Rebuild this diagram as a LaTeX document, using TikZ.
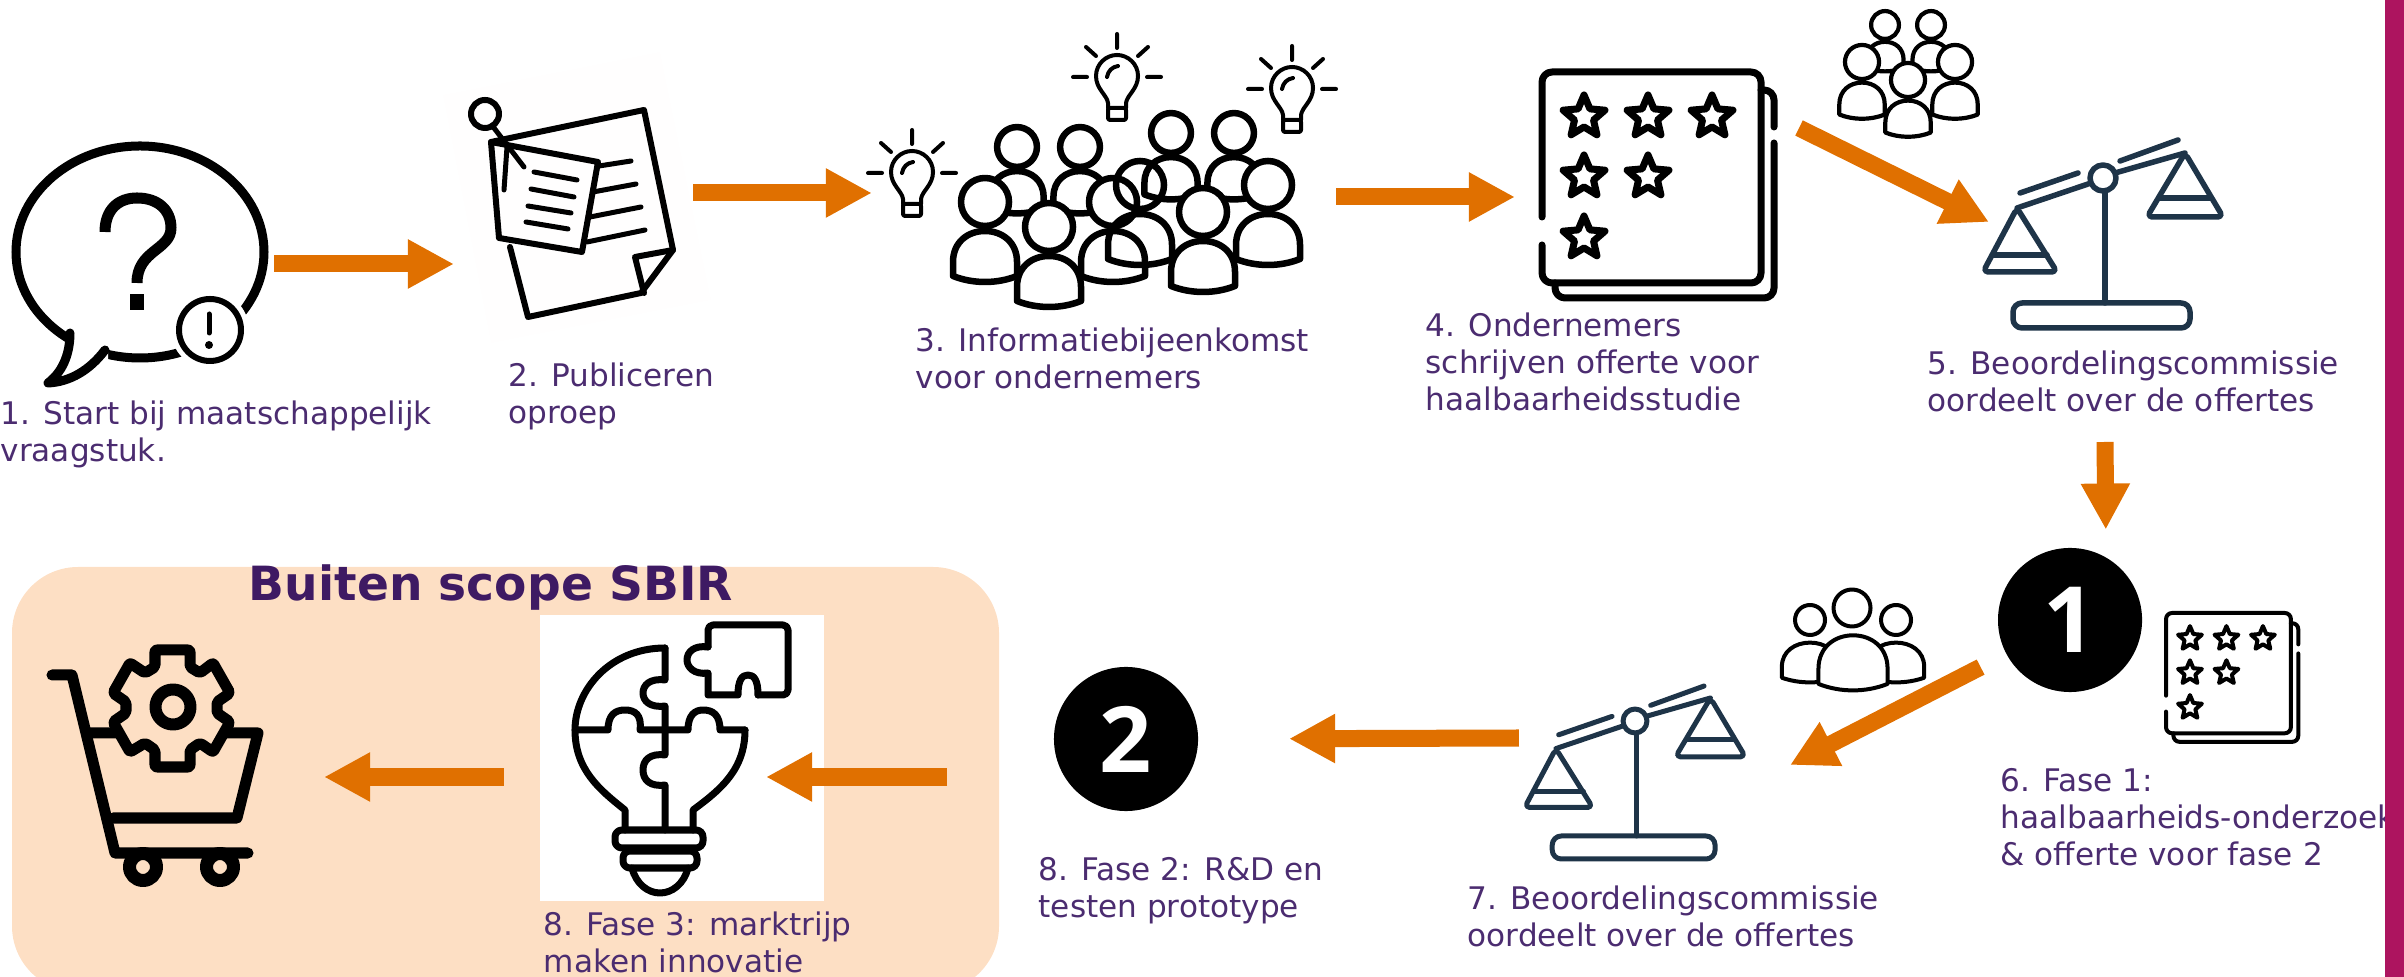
\documentclass[tikz,border=0pt]{standalone}
\usepackage{fontspec}
\setmainfont{DejaVu Sans}
\newfontfamily\digitfont{Open Sans}
\usetikzlibrary{arrows.meta}
\definecolor{sbir_orange}{RGB}{224,112,0}
\definecolor{sbir_purple}{RGB}{75,44,112}
\definecolor{sbir_title}{RGB}{62,26,99}
\definecolor{sbir_magenta}{RGB}{173,20,95}
\definecolor{sbir_panel}{RGB}{253,223,196}
\definecolor{sbir_navy}{RGB}{30,52,72}
\tikzstyle{arrow} = [line width=0.17cm,sbir_orange,-{Triangle[length=0.46cm,width=0.46cm]}]
\tikzstyle{caption} = [anchor=north west, align=left, inner sep=0pt, text=sbir_purple, font=\fontsize{8.85}{10.5}\selectfont]
\tikzstyle{iconframe} = [inner sep=0pt, outer sep=0pt]
\tikzstyle{iconline} = [draw=black, line join=round, line cap=round]
\tikzstyle{numberdot} = [circle, fill=black, text=white, inner sep=0pt, outer sep=0pt, minimum size=1.44cm, font=\digitfont\bfseries\fontsize{26}{26}\selectfont]
\newcommand{\torsopath}{(-32,74) -- (-32,60) .. controls (-32,40) and (-17,29) .. (0,29) .. controls (17,29) and (32,40) .. (32,60) -- (32,74) .. controls (12,82) and (-12,82) .. (-32,74) -- cycle}
\newcommand{\starpath}{(0,-22) -- (5.9,-8.1) -- (20.9,-6.8) -- (9.5,3.1) -- (12.9,17.8) -- (0,10) -- (-12.9,17.8) -- (-9.5,3.1) -- (-20.9,-6.8) -- (-5.9,-8.1) -- cycle}
\tikzset{
  torso/.pic={
    \path[iconline,fill=#1] \torsopath;
  },
  person/.pic={
    \path[iconline,fill=#1] (0,0) circle [radius=24];
    \path[iconline,fill=#1] \torsopath;
  },
  lamp/.pic={
    \draw[iconline] (-9,31) -- (-9,26) .. controls (-10,18) and (-21,12) .. (-21,-1) .. controls (-21,-13) and (-11,-22) .. (0,-22) .. controls (11,-22) and (21,-13) .. (21,-1) .. controls (21,12) and (10,18) .. (9,26) -- (9,31);
    \draw[iconline,rounded corners=0.02cm] (-9,31) -- (-9,43) -- (9,43) -- (9,31) -- cycle;
    \draw[iconline] (-10,0) .. controls (-9,-6) and (-5,-10) .. (1,-11);
    \draw[iconline] (0,-43) -- (0,-29) (-31,-30) -- (-21,-21) (31,-30) -- (21,-21) (-44,0) -- (-30,0) (44,0) -- (30,0);
  },
  offer/.pic={
    \draw[iconline,rounded corners=#1] (0,145) -- (0,0) -- (219,0) -- (219,211) -- (0,211) -- (0,173);
    \draw[iconline,rounded corners=#1] (219,18) -- (232,18) -- (232,55);
    \draw[iconline,rounded corners=#1] (232,71) -- (232,226) -- (13,226) -- (13,211);
    \foreach \x/\y in {42/45,106/45,170/45,42/105,106/105,42/166}
      \draw[iconline,shift={(\x,\y)}] \starpath;
  },
  balance/.pic={
    \draw[iconline,sbir_navy] (-86,30) -- (-12,5) (12,-5) -- (82,-25);
    \draw[iconline,sbir_navy] (-83,15) -- (-25,-5) (17,-17) -- (75,-38);
    \draw[iconline,sbir_navy] (0,0) circle [radius=13];
    \draw[iconline,sbir_navy] (2,14) -- (2,125);
    \draw[iconline,sbir_navy,rounded corners=0.09cm] (-90,125) rectangle (87,150);
    \draw[iconline,sbir_navy,rounded corners=0.05cm] (-86,30) -- (-120,94) -- (-46,94) -- cycle;
    \draw[iconline,sbir_navy] (-110,77) -- (-56,77);
    \draw[iconline,sbir_navy,rounded corners=0.05cm] (82,-25) -- (44,39) -- (120,39) -- cycle;
    \draw[iconline,sbir_navy] (57,20) -- (107,20);
  },
}
\begin{document}
\begin{tikzpicture}[x=0.01cm,y=-0.01cm]
  \useasboundingbox (0,0) rectangle (2404,977);
  \clip (0,0) rectangle (2404,977);

  \fill[sbir_panel,rounded corners=0.66cm] (12,567) rectangle (999,992);
  \fill[white] (540,615) rectangle (824,901);
  \fill[white!98!sbir_panel] (443,95) -- (660,52) -- (711,300) -- (491,343) -- cycle;

  \node (speech) [iconframe, minimum width=2.62cm, minimum height=2.48cm] at (143,264) {};
  \node (note) [iconframe, minimum width=2.39cm, minimum height=3cm] at (573.5,193) {};
  \node (crowd) [iconframe, minimum width=4.64cm, minimum height=2.8cm] at (1104,197) {};
  \node (rating) [iconframe, minimum width=2.6cm, minimum height=2.3cm] at (1645,197) {};
  \node (balance) [iconframe, minimum width=2.4cm, minimum height=2cm] at (2109,222) {};
  \node (one) [numberdot] at (2070,620) {1};
  \node (smallrating) [iconframe, minimum width=1.3cm, minimum height=1.3cm] at (2232,678) {};
  \node (smallbalance) [iconframe, minimum width=1.9cm, minimum height=1.5cm] at (1614,738) {};
  \node (two) [numberdot] at (1126,739) {2};
  \node (idea) [iconframe, minimum width=1.94cm, minimum height=2.8cm] at (669,777) {};
  \node (cart) [iconframe, minimum width=2.79cm, minimum height=2.5cm] at (184.5,777) {};

  % speech bubble
  \draw[iconline,line width=0.09cm] (140,252) ellipse [x radius=124, y radius=106];
  \fill[white] (70,330) -- (108,343) -- (108,372) -- (60,372) -- cycle;
  \draw[iconline,line width=0.09cm] (70,333) .. controls (70,350) and (65,370) .. (48,383) .. controls (70,382) and (90,370) .. (105,350);
  \fill[white] (210,330) circle [radius=39];
  \draw[iconline,line width=0.06cm] (210,330) circle [radius=31];
  \draw[iconline,line width=0.05cm] (209,314) -- (209,333);
  \fill (209,345) circle [radius=4];
  \draw[iconline,line width=0.11cm,line cap=butt] (105,232) .. controls (105,210) and (118,198) .. (137,198) .. controls (158,198) and (171,210) .. (171,228) .. controls (171,250) and (137,250) .. (137,283);
  \fill (130,294) rectangle (144,310);

  % pinned note
  \draw[iconline,line width=0.06cm] (491,142) -- (644,110) -- (673,250) -- (641,293) -- (528,317) -- (510,247);
  \draw[iconline,line width=0.06cm] (673,250) -- (635,257) -- (644,293);
  \draw[iconline,line width=0.06cm] (491,142) -- (598,162) -- (582,252) -- (499,238) -- cycle;
  \draw[iconline,line width=0.06cm] (485,114) circle [radius=14];
  \draw[iconline,line width=0.05cm] (494,128) -- (524,167) (507,147) -- (504,190);
  \foreach \xa/\ya/\xb/\yb in {534/172/577/180,531/189/574/197,528/206/571/213,526/222/568/229,599/166/631/161,593/192/636/184,590/217/641/207,587/242/645/230}
    \draw[iconline,line width=0.05cm] (\xa,\ya) -- (\xb,\yb);

  % crowd and ideas
  \foreach \x/\y in {912/173,1117/77,1292/89}
    \pic[line width=0.04cm] at (\x,\y) {lamp};
  \foreach \x/\y in {1017/147,1080/147,1171/133,1234/133}
    \pic[scale=0.83,line width=0.065cm] at (\x,\y) {person=white};
  \pic[line width=0.065cm] at (1113,202) {person=white};
  \pic[line width=0.065cm] at (1140,185) {person=none};
  \foreach \x/\y in {985/202,1268/185,1203/212,1049/227}
    \pic[line width=0.065cm] at (\x,\y) {person=white};

  % offer with stars
  \pic[line width=0.07cm] at (1542,72) {offer=0.1cm};
  \pic[scale=0.57,line width=0.04cm] at (2166,613) {offer=0.06cm};

  % jury above first balance
  \foreach \x/\y in {1885/25,1931/25}
    \pic[scale=0.58,line width=0.042cm] at (\x,\y) {person=white};
  \foreach \x/\y in {1862/62,1955/62,1908/80}
    \pic[scale=0.71,line width=0.042cm] at (\x,\y) {person=white};

  % jury above second balance
  \foreach \x in {1810,1896} {
    \draw[iconline,line width=0.04cm] (\x,620) circle [radius=15];
    \pic[xscale=0.88,yscale=0.78,line width=0.04cm] at (\x,620) {torso=white};
  }
  \draw[iconline,line width=0.04cm] (1852,608) circle [radius=18.5];
  \pic[scale=1.08,line width=0.04cm] at (1853,604) {torso=white};

  \pic[line width=0.055cm] at (2103,178) {balance};
  \pic[scale=0.92,line width=0.05cm] at (1635,721) {balance};

  % puzzle bulb
  \draw[iconline,line width=0.07cm] (665,648) .. controls (610,648) and (575,690) .. (575,730) .. controls (575,770) and (600,790) .. (625,810) -- (625,830);
  \draw[iconline,line width=0.07cm] (745,730) .. controls (745,770) and (720,790) .. (693,810) -- (693,830);
  \draw[iconline,line width=0.07cm] (665,648) -- (665,680) .. controls (650,678) and (643,685) .. (643,693) .. controls (643,701) and (650,708) .. (665,706) -- (665,755) .. controls (650,753) and (643,760) .. (643,770) .. controls (643,780) and (650,787) .. (665,785) -- (665,830);
  \draw[iconline,line width=0.07cm] (575,730) -- (608,730) .. controls (608,715) and (615,710) .. (625,710) .. controls (635,710) and (642,715) .. (640,730) -- (688,730) .. controls (688,715) and (695,710) .. (703,710) .. controls (713,710) and (720,715) .. (720,730) -- (745,730);
  \draw[iconline,line width=0.07cm,rounded corners=0.07cm] (615,830) rectangle (703,848);
  \draw[iconline,line width=0.07cm,rounded corners=0.07cm] (623,851) rectangle (697,868);
  \draw[iconline,line width=0.07cm] (632,868) .. controls (636,884) and (648,893) .. (660,893) .. controls (672,893) and (684,884) .. (688,868);
  \draw[iconline,line width=0.07cm,rounded corners=0.05cm] (708,647) -- (708,625) -- (788,625) -- (788,695) -- (758,695);
  \draw[iconline,line width=0.07cm] (758,695) .. controls (758,680) and (754,675) .. (748,675) .. controls (742,675) and (738,680) .. (738,695) -- (708,695) -- (708,673) .. controls (694,675) and (687,667) .. (687,660) .. controls (687,652) and (694,645) .. (708,647);

  % cart with gear
  \draw[iconline,line width=0.11cm] (52,675) -- (72,675) -- (115,853) -- (248,853);
  \draw[iconline,line width=0.11cm] (90,733) -- (258,733) -- (237,818) -- (113,818);
  \foreach \x in {143,220}
    \draw[iconline,line width=0.13cm,fill=sbir_panel] (\x,867) circle [radius=13.5];
  \draw[iconline,line width=0.11cm,fill=sbir_panel,rounded corners=0.02cm] (155,650) -- (190,650) -- (190,667) -- (200,673) -- (213,663) -- (230,693) -- (217,702) -- (217,713) -- (230,722) -- (213,752) -- (200,743) -- (190,750) -- (190,767) -- (155,767) -- (155,750) -- (145,743) -- (130,752) -- (113,722) -- (126,713) -- (126,702) -- (113,693) -- (130,663) -- (145,673) -- (155,667) -- cycle;
  \draw[iconline,line width=0.12cm] (173,707) circle [radius=17.5];

  \node (label_start) [caption] at (0,400) {1. Start bij maatschappelijk\\vraagstuk.};
  \node (label_publish) [caption] at (508,362) {2. Publiceren\\oproep};
  \node (label_meeting) [caption] at (915,327) {3. Informatiebijeenkomst\\voor ondernemers};
  \node (label_offer) [caption] at (1425,312) {4. Ondernemers\\schrijven offerte voor\\haalbaarheidsstudie};
  \node (label_judge) [caption] at (1927,350) {5. Beoordelingscommissie\\oordeelt over de offertes};
  \node (label_phaseone) [caption] at (2000,768) {6. Fase 1:\\haalbaarheids-onderzoek\\\& offerte voor fase 2};
  \node (label_judgetwo) [caption] at (1467,885) {7. Beoordelingscommissie\\oordeelt over de offertes};
  \node (label_phasetwo) [caption] at (1038,857) {8. Fase 2: R\&D en\\testen prototype};
  \node (label_phasethree) [caption] at (543,911) {8. Fase 3: marktrijp\\maken innovatie};
  \node (title) [text=sbir_title, inner sep=0pt, font=\bfseries\fontsize{13.4}{16}\selectfont] at (491,588) {Buiten scope SBIR};

  \fill[sbir_magenta] (2385,0) rectangle (2404,977);

  \coordinate (jury_start) at (1799,128);
  \coordinate (judge_out) at (2105,442);
  \coordinate (phaseone_tip) at (1790,765);
  \coordinate (market_start) at (947,777);

  \draw [arrow] (speech.east) -- (speech.east -| note.west);
  \draw [arrow] (note.east) -- (note.east -| crowd.west);
  \draw [arrow] (crowd.east) -- (rating.west);
  \draw [arrow] (jury_start) -- (balance.west);
  \draw [arrow, shorten >=0.28cm] (judge_out) -- (one.60);
  \draw [arrow, shorten <=0.29cm] (one.208) -- (phaseone_tip);
  \draw [arrow, shorten >=0.91cm] (smallbalance.west) -- (two.east);
  \draw [arrow] (market_start) -- (idea.east);
  \draw [arrow, shorten <=0.68cm] (idea.west) -- (cart.east);
\end{tikzpicture}
\end{document}
